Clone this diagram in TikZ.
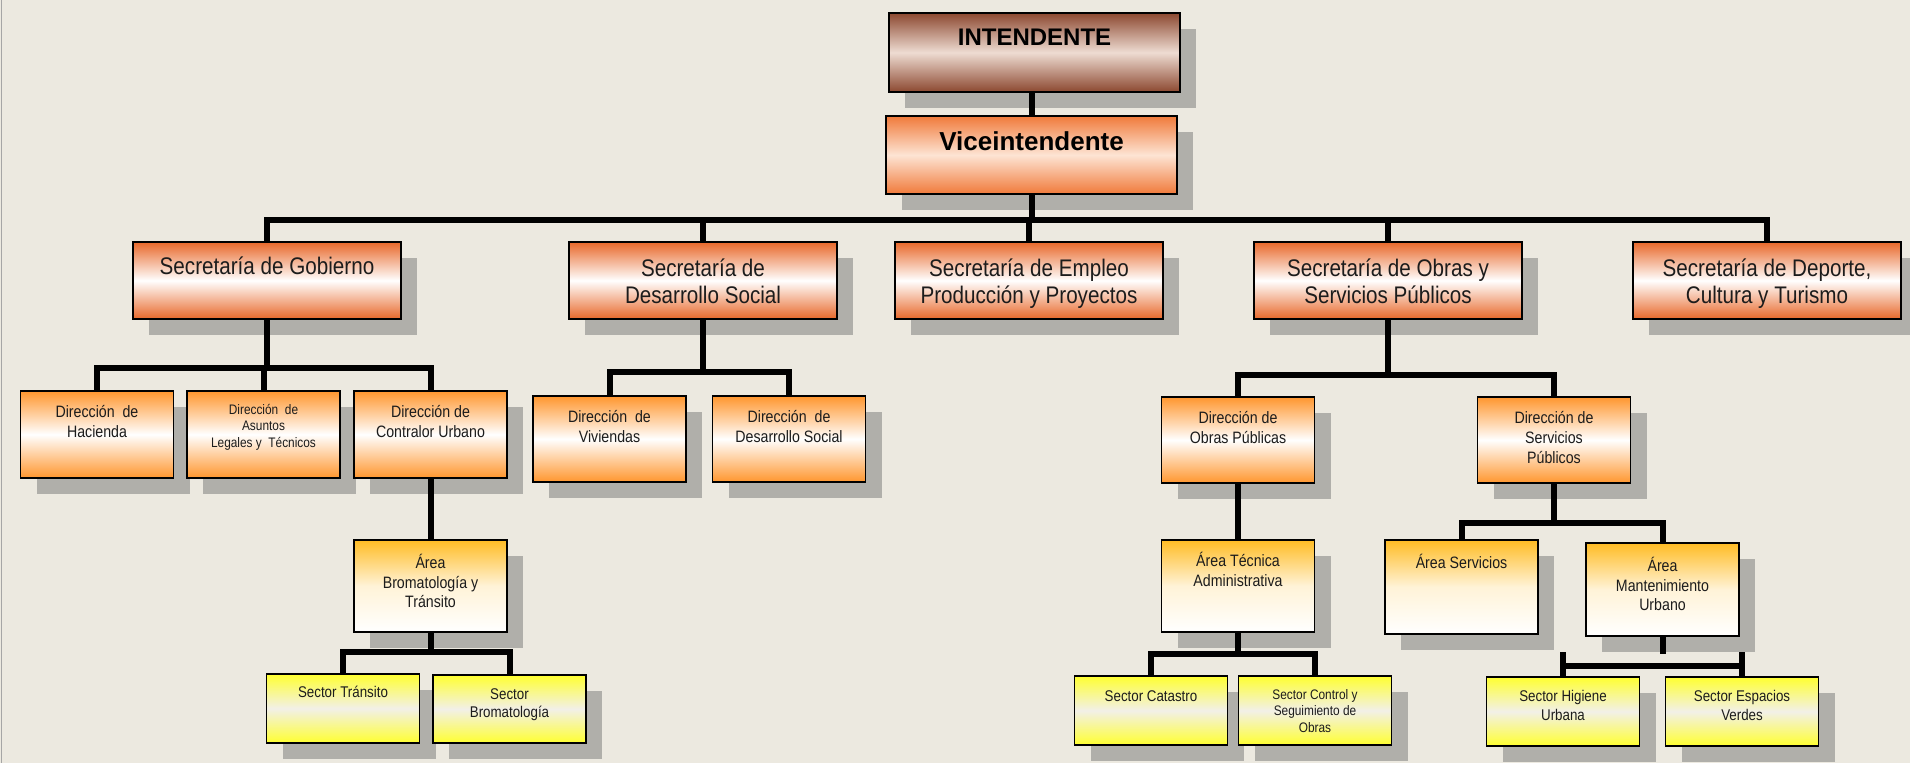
\documentclass[tikz,border=0pt]{standalone}
\usepackage{fontspec}
\setmainfont{Liberation Sans}
\newfontfamily\narrowfont[FakeStretch=0.86]{Liberation Sans}
\usetikzlibrary{shadows}

\definecolor{paper}{RGB}{236,233,224}
\definecolor{shadowgray}{RGB}{176,175,170}
\definecolor{brownbar}{RGB}{140,72,48}
\definecolor{brownmid}{RGB}{238,220,210}
\definecolor{viceorange}{RGB}{240,122,58}
\definecolor{vicemid}{RGB}{253,228,212}
\definecolor{secorange}{RGB}{232,104,42}
\definecolor{dirorange}{RGB}{255,150,46}
\definecolor{areaorange}{RGB}{255,188,36}
\definecolor{sectoryellow}{RGB}{255,255,48}
\definecolor{sectormid}{RGB}{242,240,232}
\definecolor{ink}{RGB}{28,28,28}

\newcommand\fsec{\narrowfont\fontsize{24}{27}\selectfont}
\newcommand\fdir{\narrowfont\fontsize{16.5}{20}\selectfont}
\newcommand\fsmall{\narrowfont\fontsize{13.8}{16.5}\selectfont}
\newcommand\farea{\narrowfont\fontsize{16.5}{19.5}\selectfont}
\newcommand\fsector{\narrowfont\fontsize{15.5}{18.5}\selectfont}

\begin{document}
\begin{tikzpicture}[x=1pt,y=-1pt,
  box/.style={draw=black,line width=1.8pt,inner sep=0pt,minimum width=153pt,
    drop shadow={shadow xshift=16pt,shadow yshift=-16pt,fill=shadowgray,opacity=1}},
  topbox/.style={box,minimum width=291pt,top color=brownbar,bottom color=brownbar,middle color=brownmid},
  vicebox/.style={box,minimum width=291pt,top color=viceorange,bottom color=viceorange,middle color=vicemid},
  secbox/.style={box,minimum width=268pt,minimum height=77pt,top color=secorange,bottom color=secorange,middle color=white},
  dirbox/.style={box,minimum height=87pt,top color=dirorange,bottom color=dirorange,middle color=white},
  areabox/.style={box,minimum height=92pt,top color=areaorange,bottom color=white,middle color=areaorange!18!white},
  sectorbox/.style={box,minimum height=69pt,top color=sectoryellow,bottom color=sectoryellow,middle color=sectormid},
  txt/.style={anchor=north,inner sep=0pt,align=center,text=ink},
  bus/.style={line width=6pt,black}]
  \useasboundingbox (0,0) rectangle (1910,763);
  \fill[paper] (0,0) rectangle (1910,763);
  \draw[gray!70,line width=1pt] (1,0) -- (1,763);

  % top of the chart
  \node[topbox,minimum height=79pt,label={[txt,yshift=-17pt,font=\bfseries\fontsize{24}{28}\selectfont,text=black]north:INTENDENTE}] (int) at (1034.5,52.5) {};
  \node[vicebox,minimum height=78pt,label={[txt,yshift=-16pt,font=\bfseries\fontsize{26}{30}\selectfont,text=black]north:Viceintendente}] (vice) at (1031.5,155) {};

  % secretarias
  \node[secbox,label={[txt,yshift=-16pt,font=\fsec]north:Secretaría de Gobierno}] (sgob) at (267,280.5) {};
  \node[secbox,label={[txt,yshift=-18pt,font=\fsec]north:{Secretaría de\\Desarrollo Social}}] (sdes) at (703,280.5) {};
  \node[secbox,label={[txt,yshift=-18pt,font=\fsec]north:{Secretaría de Empleo\\Producción y Proyectos}}] (semp) at (1029,280.5) {};
  \node[secbox,label={[txt,yshift=-18pt,font=\fsec]north:{Secretaría de Obras y\\Servicios Públicos}}] (sobr) at (1388,280.5) {};
  \node[secbox,label={[txt,yshift=-18pt,font=\fsec]north:{Secretaría de Deporte,\\Cultura y Turismo}}] (sdep) at (1767,280.5) {};

  % direcciones
  \node[dirbox,label={[txt,yshift=-15pt,font=\fdir]north:{Dirección~ de\\Hacienda}}] (dhac) at (97,434.5) {};
  \node[dirbox,label={[txt,yshift=-14pt,font=\fsmall]north:{Dirección~ de\\Asuntos\\Legales y~ Técnicos}}] (dasu) at (263.5,434.5) {};
  \node[dirbox,label={[txt,yshift=-15pt,font=\fdir]north:{Dirección de\\Contralor Urbano}}] (dcon) at (430.5,434.5) {};
  \node[dirbox,minimum height=86pt,label={[txt,yshift=-15pt,font=\fdir]north:{Dirección~ de\\Viviendas}}] (dviv) at (609.5,439) {};
  \node[dirbox,minimum height=86pt,label={[txt,yshift=-15pt,font=\fdir]north:{Dirección~ de\\Desarrollo Social}}] (ddso) at (789,439) {};
  \node[dirbox,minimum height=86pt,label={[txt,yshift=-15pt,font=\fdir]north:{Dirección de\\Obras Públicas}}] (dobp) at (1238,440) {};
  \node[dirbox,minimum height=86pt,label={[txt,yshift=-15pt,font=\fdir]north:{Dirección de\\Servicios\\Públicos}}] (dsep) at (1554,440) {};

  % areas
  \node[areabox,label={[txt,yshift=-15pt,font=\farea]north:{Área\\Bromatología y\\Tránsito}}] (abrom) at (430.5,586) {};
  \node[areabox,label={[txt,yshift=-13pt,font=\farea]north:{Área Técnica\\Administrativa}}] (atec) at (1238,586) {};
  \node[areabox,minimum height=94pt,label={[txt,yshift=-15pt,font=\farea]north:Área Servicios}] (aser) at (1461.5,587) {};
  \node[areabox,minimum height=93pt,label={[txt,yshift=-15pt,font=\farea]north:{Área\\Mantenimiento\\Urbano}}] (aman) at (1662.5,589.5) {};

  % sectores
  \node[sectorbox,label={[txt,yshift=-13pt,font=\fsector]north:Sector Tránsito}] (stra) at (343,708.5) {};
  \node[sectorbox,minimum height=68pt,label={[txt,yshift=-14pt,font=\fsector]north:{Sector\\Bromatología}}] (sbro) at (509.5,709) {};
  \node[sectorbox,label={[txt,yshift=-15pt,font=\fsector]north:Sector Catastro}] (scat) at (1151,710.5) {};
  \node[sectorbox,label={[txt,yshift=-14pt,font=\fsmall]north:{Sector Control y\\Seguimiento de\\Obras}}] (scon) at (1315,710.5) {};
  \node[sectorbox,label={[txt,yshift=-14pt,font=\fsector]north:{Sector Higiene\\Urbana}}] (shig) at (1563,711.5) {};
  \node[sectorbox,label={[txt,yshift=-14pt,font=\fsector]north:{Sector Espacios\\Verdes}}] (sesp) at (1742,711.5) {};

  % connectors
  \draw[bus] (vice.north |- int.south) -- (vice.north);
  \foreach \s in {sgob,sdes,semp,sobr,sdep}
    \draw[bus] (vice.south) -- ++(0,25) -| (\s.north);
  \foreach \d in {dhac,dasu,dcon}
    \draw[bus] (sgob.south) -- ++(0,48) -| (\d.north);
  \foreach \d in {dviv,ddso}
    \draw[bus] (sdes.south) -- ++(0,52) -| (\d.north);
  \foreach \d in {dobp,dsep}
    \draw[bus] (sobr.south) -- ++(0,55) -| (\d.north);
  \draw[bus] (dcon.south) -- (abrom.north);
  \draw[bus] (dobp.south) -- (atec.north);
  \foreach \a in {aser,aman}
    \draw[bus] (dsep.south) -- ++(0,39) -| (\a.north);
  \foreach \t in {stra,sbro}
    \draw[bus] (abrom.south) -- ++(0,19) -| (\t.north);
  \foreach \t in {scat,scon}
    \draw[bus] (atec.south) -- ++(0,21) -| (\t.north);
  % the stub under Mantenimiento does not reach its bracket
  \draw[bus] (aman.south) -- ++(0,17);
  \draw[bus] (shig.north) -- ++(0,-24);
  \draw[bus] (sesp.north) -- ++(0,-24);
  \draw[bus] ([yshift=10pt]shig.north) -- ([yshift=10pt]sesp.north);
\end{tikzpicture}
\end{document}
